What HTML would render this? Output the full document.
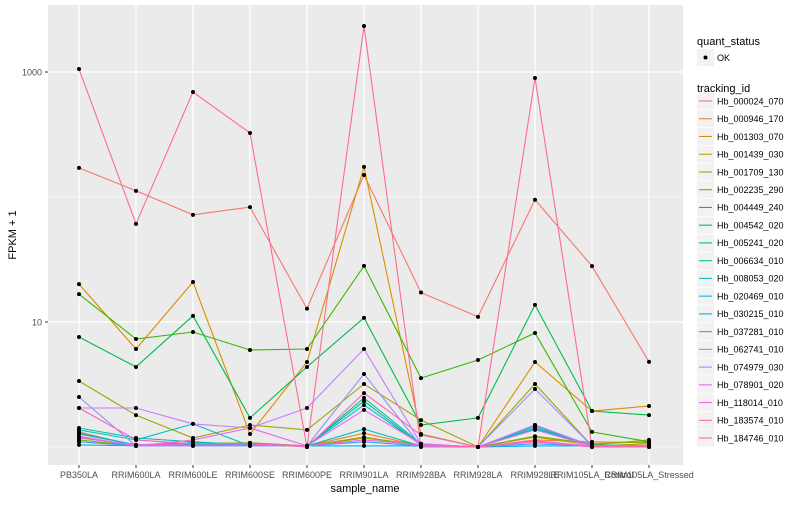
<!DOCTYPE html>
<html><head><meta charset="utf-8"><style>
body{margin:0;background:#fff;font-family:"Liberation Sans",sans-serif}
svg text{font-family:"Liberation Sans",sans-serif}
</style></head><body>
<svg id="chart" width="800" height="500" xmlns="http://www.w3.org/2000/svg">
<rect x="0" y="0" width="800" height="500" fill="#fff"/>
<rect x="48" y="5" width="635" height="460" fill="#EBEBEB"/>
<g id="grid"></g><g id="lines"></g><g id="points"></g><g id="axes"></g><g id="legend"></g>
</svg>
<script>
const categories=["PB350LA","RRIM600LA","RRIM600LE","RRIM600SE","RRIM600PE","RRIM901LA","RRIM928BA","RRIM928LA","RRIM928LE","RRIM105LA_Control","RRIM105LA_Stressed"];
const seriesNames=["Hb_000024_070","Hb_000946_170","Hb_001303_070","Hb_001439_030","Hb_001709_130","Hb_002235_290","Hb_004449_240","Hb_004542_020","Hb_005241_020","Hb_006634_010","Hb_008053_020","Hb_020469_010","Hb_030215_010","Hb_037281_010","Hb_062741_010","Hb_074979_030","Hb_078901_020","Hb_118014_010","Hb_183574_010","Hb_184746_010"];
const seriesColors=["#F8766D","#EA8331","#D89000","#C09B00","#A3A500","#7CAE00","#39B600","#00BB4E","#00BF7D","#00C1A3","#00BFC4","#00BAE0","#00B0F6","#35A2FF","#9590FF","#C77CFF","#E76BF3","#FA62DB","#FF62BC","#FF6C91"];
const s0=[171,112,72,83,12.8,150,17.2,11,95,28,4.8];
const s1=[1.32,1.02,1.04,1.06,1.02,1.29,1.02,1,1.14,1.1,1.08];
const s2=[20.1,6.08,20.9,1.27,4.79,174,1.27,1,4.79,1.94,2.13];
const s3=[1.2,1.02,1.04,1.08,1.02,1.2,1.02,1,1.2,1.04,1.14];
const s4=[3.37,1.8,1.18,1.5,1.37,3.19,1.64,1,3.19,1.02,1.06];
const s5=[1.14,1.02,1.06,1.08,1.02,1.18,1.04,1,1.22,1.06,1.1];
const s6=[16.7,7.31,8.32,5.97,6.08,28.1,3.56,4.97,8.17,1.32,1.1];
const s7=[7.59,4.37,11.2,1.71,4.37,10.8,1.5,1.71,13.7,1.94,1.8];
const s8=[1.27,1.04,1.08,1.06,1.02,2.33,1.04,1,1.42,1.04,1.02];
const s9=[1.42,1.18,1.1,1.04,1.02,2.47,1.06,1,1.5,1.02,1.02];
const s10=[1.37,1.14,1.53,1.02,1.02,1.39,1.02,1,1.39,1.02,1.02];
const s11=[1.29,1.04,1.06,1.04,1.02,2.17,1.04,1,1.47,1.02,1.02];
const s12=[1.04,1.02,1.02,1.02,1.02,1.02,1.02,1,1.02,1.02,1.02];
const s13=[1.1,1.02,1.04,1.04,1.02,1.1,1.02,1,1.06,1.02,1.02];
const s14=[2.51,1.02,1.02,1.02,1.02,3.84,1.02,1,2.91,1.02,1.02];
const s15=[2.05,2.05,1.53,1.42,2.05,6.08,1.06,1,1.5,1.02,1.02];
const s16=[1.22,1.02,1.14,1.42,1.02,1.98,1.06,1,1.37,1.02,1.02];
const s17=[1.18,1.04,1.06,1.06,1.02,1.14,1.04,1,1.12,1.02,1.02];
const s18=[2.05,1.14,1.06,1.06,1,2.7,1.25,1,1.1,1,1];
const s19=[1057,61,692,325,1,2335,1,1,895,1,1];
const seriesValues=[s0,s1,s2,s3,s4,s5,s6,s7,s8,s9,s10,s11,s12,s13,s14,s15,s16,s17,s18,s19];
const yTickValues=[10,1000];
const yTickLabels=["10","1000"];
const yMinorValues=[1,100];

const NS="http://www.w3.org/2000/svg";
const X0=79,DX=57;
function xPos(i){return X0+i*DX;}
function yPos(v){return 447-125*Math.log10(v);}
function mk(tag,attrs,parent,txt){const e=document.createElementNS(NS,tag);for(const k in attrs)e.setAttribute(k,attrs[k]);if(txt!==undefined)e.textContent=txt;parent.appendChild(e);return e;}
const grid=document.getElementById('grid'),lines=document.getElementById('lines'),pts=document.getElementById('points'),axes=document.getElementById('axes'),leg=document.getElementById('legend');
yMinorValues.forEach(v=>{const l=mk('line',{x1:48,x2:683,y1:yPos(v),y2:yPos(v),stroke:'#fff','stroke-width':0.6},grid);

});
yTickValues.forEach((v,i)=>{const l=mk('line',{x1:48,x2:683,y1:yPos(v),y2:yPos(v),stroke:'#fff','stroke-width':1.2},grid);


const t=mk('text',{x:42,y:yPos(v)+3.5,'text-anchor':'end','font-size':9,fill:'#4D4D4D'},axes,yTickLabels[i]);


const tk=mk('line',{x1:45,x2:48,y1:yPos(v),y2:yPos(v),stroke:'#333','stroke-width':1},axes);

});
categories.forEach((c,i)=>{const l=mk('line',{x1:xPos(i),x2:xPos(i),y1:5,y2:465,stroke:'#fff','stroke-width':1.2},grid);


const tk=mk('line',{x1:xPos(i),x2:xPos(i),y1:465,y2:468,stroke:'#333','stroke-width':1},axes);


const t=mk('text',{x:xPos(i),y:478,'text-anchor':'middle','font-size':9,fill:'#4D4D4D'},axes,c);

});
seriesValues.forEach((vals,s)=>{const d=vals.map((v,i)=>(i?'L':'M')+xPos(i)+','+yPos(v).toFixed(1)).join(' ');
const p=mk('path',{d:d,fill:'none',stroke:seriesColors[s],'stroke-width':1.1},lines);

});
seriesValues.forEach((vals,s)=>{vals.forEach((v,i)=>{const c=mk('circle',{cx:xPos(i),cy:yPos(v),r:2,fill:'#000'},pts);

});});
let t=mk('text',{x:365,y:492,'text-anchor':'middle','font-size':11,fill:'#000'},axes,'sample_name');


t=mk('text',{x:16,y:235,'text-anchor':'middle','font-size':11,fill:'#000',transform:'rotate(-90 16 235)'},axes,'FPKM + 1');


t=mk('text',{x:697,y:45,'font-size':11,fill:'#000'},leg,'quant_status');


let r=mk('rect',{x:697,y:49,width:17,height:17,fill:'#F2F2F2'},leg);


let c=mk('circle',{cx:705.5,cy:57.5,r:2,fill:'#000'},leg);


t=mk('text',{x:717,y:61,'font-size':9,fill:'#000'},leg,'OK');


t=mk('text',{x:697,y:92,'font-size':11,fill:'#000'},leg,'tracking_id');


seriesNames.forEach((n,s)=>{const cy=101+s*17.74;
const g=mk('g',{},leg);


mk('rect',{x:697,y:cy-8.5,width:17,height:17,fill:'#F2F2F2'},g);
mk('line',{x1:699,x2:712,y1:cy,y2:cy,stroke:seriesColors[s],'stroke-width':1.1},g);
mk('text',{x:717,y:cy+3.3,'font-size':9,fill:'#000'},g,n);});
</script>
</body></html>
